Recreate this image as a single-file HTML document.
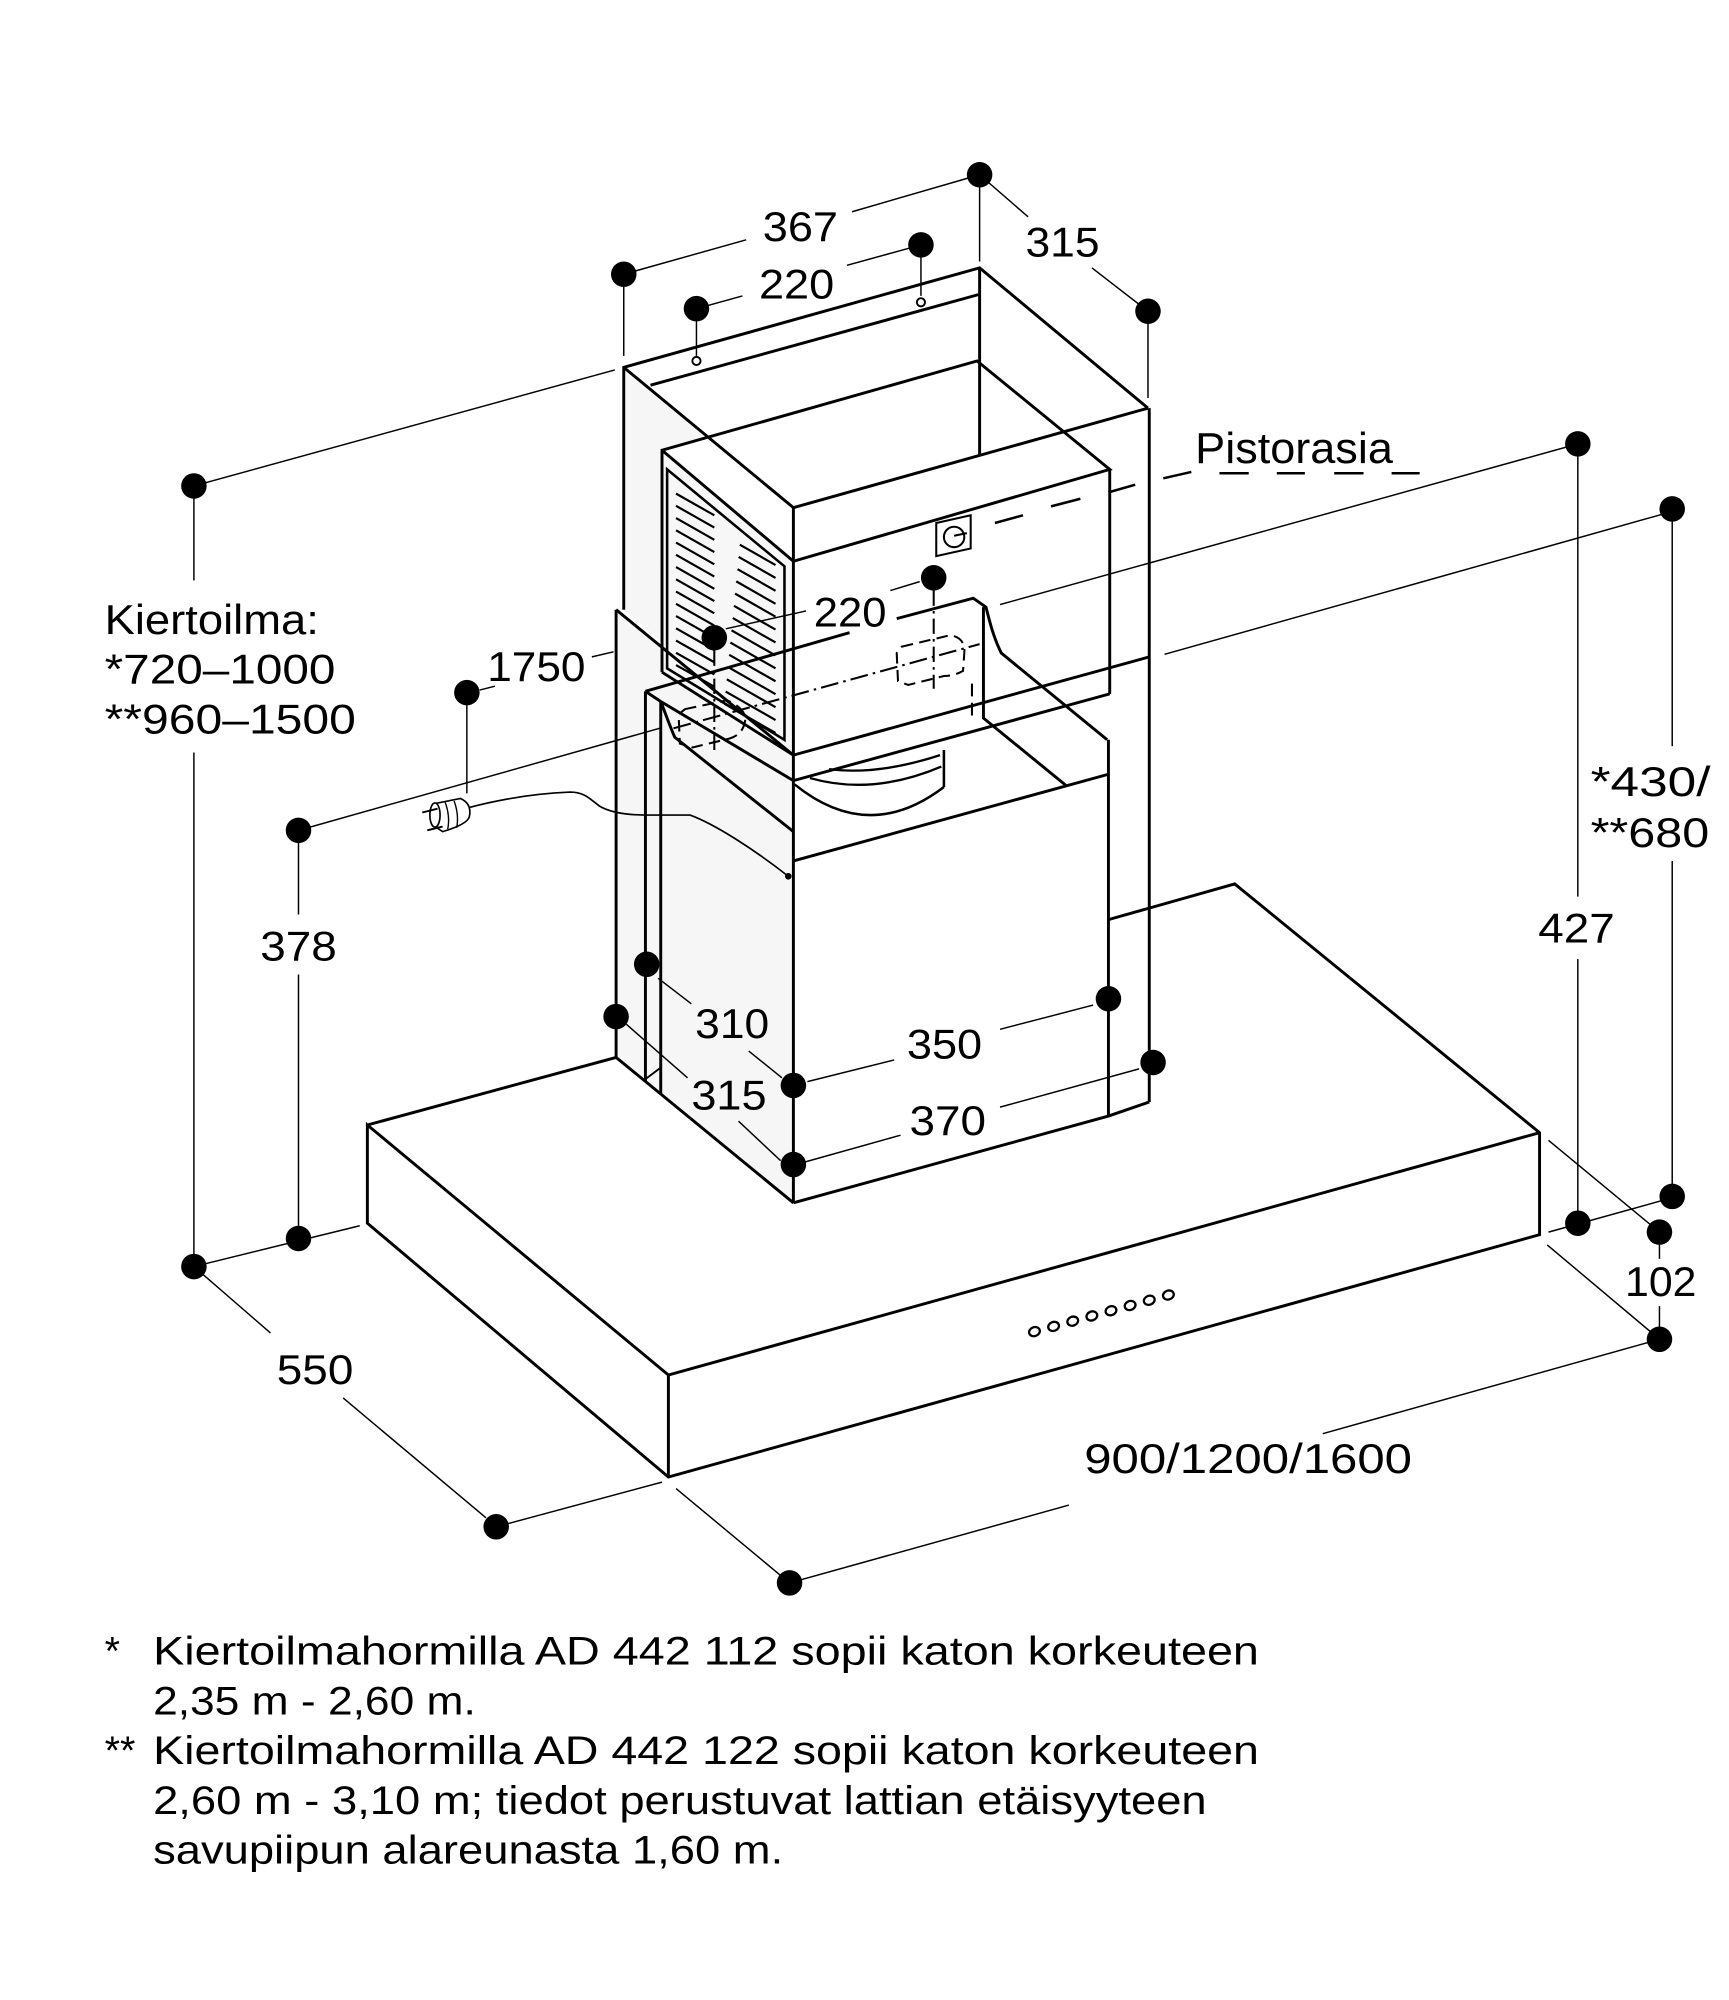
<!DOCTYPE html>
<html><head><meta charset="utf-8">
<style>
html,body{margin:0;padding:0;background:#fff;}
svg{display:block;}
text{font-family:"Liberation Sans",Arial,sans-serif;fill:#000;}
</style></head><body>
<svg xmlns="http://www.w3.org/2000/svg" width="1729" height="2000" viewBox="0 0 1355.5 1568">
<rect x="0" y="0" width="1355.5" height="1568" fill="#fff"/>

<!-- fills -->
<polygon points="489,288 622,398 622,592 489,478" fill="#f6f6f6"/>
<polygon points="483,478 622,592 622,943 483,829" fill="#f6f6f6"/>
<polygon points="519,353 766,283 870,368 622,440" fill="#fff"/>
<polygon points="519,353 622,440 622,592 519,527" fill="#f7f7f7"/>

<!-- object lines -->
<g fill="none" stroke="#000" stroke-width="2.3" stroke-linejoin="miter" stroke-linecap="butt">
  <path d="M489,478 L489,288 L768,210 L900,320"/>
  <path d="M489,288 L622,398"/>
  <path d="M622,398 L900,320"/>
  <path d="M510,302 L767,231"/>
  <path d="M768,210 L768,357"/>
  <path d="M901,320 L901,864"/>
  <path d="M622,397 L622,943"/>
  <path d="M519,527 L519,353 L766,283 L870,368 L622,440 L519,353"/>
  <path d="M870,368 L870,544"/>
  <path d="M622,612 L870,544"/>
  <path d="M519,527 L622,592"/>
  <path d="M523,524 L523,368 L615,444 L615,580 Z" stroke-width="2"/>
  <path d="M483,478 L483,829 L622,943"/>
  <path d="M483,478 L622,592"/>
  <path d="M622,592 L901,515"/>
  <path d="M622,943 L869,875 L901,864"/>
  <path d="M506,542 L506,848"/>
  <path d="M518,550 L518,857"/>
  <path d="M506,542 L518,550"/>
  <path d="M506,542 L666,496"/>
  <path d="M703,485 L763,469 L773,476 C776,488 779,500 785,512 L868,580"/>
  <path d="M518,550 C522,560 525,569 529,578 L622,652"/>
  <path d="M518,550 L622,612"/>
  <path d="M771,476 L771,563 L836,616"/>
  <path d="M622,675 L869,607"/>
  <path d="M869,580 L869,875"/>
  <path d="M506,846 L518,837" stroke-width="1.5"/>
  <path d="M623,615 Q681,662 740,617" stroke-width="2"/>
  <path d="M635,610 Q684,624 738,601" stroke-width="1.8"/>
  <path d="M650,603 Q688,608 737,592" stroke-width="1.8"/>
  <path d="M740,588 L740,617" stroke-width="2"/>
  <path d="M288,882 L483,829"/>
  <path d="M869,721 L968,693 L1207,888 L1207,968 L524,1158 L288,959 L288,882 L524,1078 L1207,888"/>
  <path d="M524,1078 L524,1158"/>
</g>

<!-- louvers -->
<path fill="none" stroke="#000" stroke-width="1.7" d="
M530,387L560,404 M530,396.6L560,413.6 M530,406.2L560,423.2 M530,415.8L560,432.8 M530,425.4L560,442.4
M530,435L560,452 M530,444.6L560,461.6 M530,454.2L560,471.2 M530,463.8L560,480.8 M530,473.4L560,490.4
M530,483L560,500 M530,492.6L560,509.6 M530,502.2L560,519.2 M530,511.8L560,528.8 M530,521.4L560,538.4
M580,427L608,443 M579.1,436.6L608,453.1 M578.2,446.2L608,463.2 M577.2,455.8L608,473.4 M576.3,465.4L608,483.5
M575.4,475L608,493.6 M574.5,484.6L608,503.7 M573.5,494.2L608,513.9 M572.6,503.8L608,524 M571.7,513.4L608,534.1
M570.8,523L608,544.2 M569.8,532.6L608,554.4 M568.9,542.2L608,564.5 M568,551.8L608,574.6"/>

<!-- hidden outlets / axes -->
<g fill="none" stroke="#000" stroke-width="1.6">
  <path d="M537,556 L570,549 Q586,556 584,566 Q582,576 572,579 L543,586 L533,583 L532,560 Z" stroke-dasharray="9,5"/>
  <path d="M707,507 L745,498 Q757,500 756,512 L755,526 Q748,530 740,530 L712,537 L704,534 L703,512 Z" stroke-dasharray="9,5"/>
  <path d="M560,510 L560,590" stroke-dasharray="12,4,2,4"/>
  <path d="M732,463 L732,540" stroke-dasharray="12,4,2,4"/>
  <path d="M528,571 L768,505" stroke-dasharray="14,4,2,4"/>
  <path d="M762,536 L762,566" stroke-dasharray="10,5"/>
</g>

<!-- socket icon -->
<polygon points="734,410 761,404 761,430 734,436" fill="#fff" stroke="#000" stroke-width="1.6"/>
<circle cx="748" cy="421" r="8" fill="none" stroke="#000" stroke-width="1.6"/>
<path d="M748,420 L758,418" stroke="#000" stroke-width="1.6"/>

<!-- Pistorasia dashes -->
<g stroke="#000" stroke-width="2" fill="none">
  <path d="M780,410 L802,404 M824,397 L847,391 M869,386 L890,380 M912,375 L934,370"/>
  <path d="M956,371 L979,371 M1001,371 L1023,371 M1046,371 L1069,371 M1091,371 L1113,371"/>
</g>

<!-- control buttons -->
<g fill="#fff" stroke="#000" stroke-width="1.8">
  <ellipse cx="811" cy="1044" rx="4.3" ry="3.5" transform="rotate(-20 811 1044)"/>
  <ellipse cx="826" cy="1039.9" rx="4.3" ry="3.5" transform="rotate(-20 826 1039.9)"/>
  <ellipse cx="841" cy="1035.8" rx="4.3" ry="3.5" transform="rotate(-20 841 1035.8)"/>
  <ellipse cx="856" cy="1031.7" rx="4.3" ry="3.5" transform="rotate(-20 856 1031.7)"/>
  <ellipse cx="871" cy="1027.6" rx="4.3" ry="3.5" transform="rotate(-20 871 1027.6)"/>
  <ellipse cx="886" cy="1023.5" rx="4.3" ry="3.5" transform="rotate(-20 886 1023.5)"/>
  <ellipse cx="901" cy="1019.4" rx="4.3" ry="3.5" transform="rotate(-20 901 1019.4)"/>
  <ellipse cx="916" cy="1015.3" rx="4.3" ry="3.5" transform="rotate(-20 916 1015.3)"/>
</g>

<!-- cable and plug -->
<path d="M368,633 C395,626 420,622 447,621 C458,621 462,626 470,632 C480,638 495,639 507,639 L541,639 C560,646 590,665 618,687" fill="none" stroke="#000" stroke-width="1.3"/>
<circle cx="618" cy="687" r="2.6" fill="#000"/>
<path d="M341,630 L361,626 Q370,630 368,640 Q367,646 347,652 L341,648 Z" fill="#fff" stroke="#000" stroke-width="1.3"/>
<ellipse cx="341" cy="639" rx="4" ry="9.5" fill="#fff" stroke="#000" stroke-width="1.3"/>
<path d="M349,629 Q353,640 351,650 M356,628 Q360,639 358,649" fill="none" stroke="#000" stroke-width="1.1"/>
<path d="M331,637 L343,634 M335,651 L347,648" stroke="#000" stroke-width="1.5"/>

<!-- dimension lines -->
<g fill="none" stroke="#000" stroke-width="1.15">
  <path d="M489,215 L585,188 M668,166 L768,137"/>
  <path d="M546,242 L582,232 M664,208 L722,192"/>
  <path d="M768,137 L806,170 M856,210 L900,244"/>
  <path d="M489,215 L489,279 M546,242 L546,279 M722,192 L722,232 M768,137 L768,205 M900,244 L900,312"/>
  <path d="M152,381 L482,290"/>
  <path d="M152,381 L152,455 M152,590 L152,993"/>
  <path d="M152,993 L282,961"/>
  <path d="M152,993 L212,1045 M269,1096 L381,1190"/>
  <path d="M389,1197 L519,1162"/>
  <path d="M234,651 L517,571"/>
  <path d="M234,651 L234,717 M234,764 L234,971"/>
  <path d="M366,544 L366,622"/>
  <path d="M376,541 L388,538"/>
  <path d="M464,515 L481,511"/>
  <path d="M516,767 L542,787 M587,824 L613,845"/>
  <path d="M491,803 L539,845 M579,879 L612,910"/>
  <path d="M633,848 L701,831 M784,807 L857,788"/>
  <path d="M631,911 L706,890 M784,868 L893,838"/>
  <path d="M569,493 L632,479 M698,463 L721,456"/>
  <path d="M784,474 L1237,348 M1237,348 L1237,703 M1237,752 L1237,960"/>
  <path d="M913,513 L1311,401 M1311,399 L1311,585 M1311,675 L1311,939"/>
  <path d="M1214,966 L1311,939"/>
  <path d="M1214,894 L1301,966 M1213,976 L1301,1050"/>
  <path d="M1301,966 L1301,987 M1301,1024 L1301,1050"/>
  <path d="M530,1167 L619,1241 M619,1241 L838,1180 M1037,1124 L1301,1050"/>
</g>
<g fill="#fff" stroke="#000" stroke-width="1.5">
  <circle cx="546" cy="283" r="3.2"/>
  <circle cx="722" cy="237" r="3.2"/>
</g>

<!-- dimension dots -->
<g fill="#000">
  <circle cx="768" cy="137" r="10"/>
  <circle cx="489" cy="215" r="10"/>
  <circle cx="722" cy="192" r="10"/>
  <circle cx="546" cy="242" r="10"/>
  <circle cx="900" cy="244" r="10"/>
  <circle cx="152" cy="381" r="10"/>
  <circle cx="1237" cy="348" r="10"/>
  <circle cx="1311" cy="399" r="10"/>
  <circle cx="732" cy="453" r="10"/>
  <circle cx="560" cy="500" r="10"/>
  <circle cx="366" cy="543" r="10"/>
  <circle cx="234" cy="651" r="10"/>
  <circle cx="507" cy="756" r="10"/>
  <circle cx="483" cy="797" r="10"/>
  <circle cx="869" cy="783" r="10"/>
  <circle cx="904" cy="833" r="10"/>
  <circle cx="622" cy="851" r="10"/>
  <circle cx="622" cy="913" r="10"/>
  <circle cx="1311" cy="938" r="10"/>
  <circle cx="1237" cy="959" r="10"/>
  <circle cx="1301" cy="966" r="10"/>
  <circle cx="152" cy="993" r="10"/>
  <circle cx="234" cy="971" r="10"/>
  <circle cx="1301" cy="1050" r="10"/>
  <circle cx="389" cy="1197" r="10"/>
  <circle cx="619" cy="1241" r="10"/>
</g>

<!-- labels -->
<g font-size="33">
  <text x="598" y="189" textLength="59" lengthAdjust="spacingAndGlyphs">367</text>
  <text x="595" y="234" textLength="59" lengthAdjust="spacingAndGlyphs">220</text>
  <text x="804" y="201" textLength="58" lengthAdjust="spacingAndGlyphs">315</text>
  <text x="937" y="363" font-size="34" textLength="155" lengthAdjust="spacingAndGlyphs">Pistorasia</text>
  <text x="638" y="491" textLength="57" lengthAdjust="spacingAndGlyphs">220</text>
  <text x="382" y="534" textLength="77" lengthAdjust="spacingAndGlyphs">1750</text>
  <text x="82" y="497" textLength="168" lengthAdjust="spacingAndGlyphs">Kiertoilma:</text>
  <text x="82" y="536" textLength="181" lengthAdjust="spacingAndGlyphs">*720–1000</text>
  <text x="82" y="575" textLength="197" lengthAdjust="spacingAndGlyphs">**960–1500</text>
  <text x="204" y="753" textLength="60" lengthAdjust="spacingAndGlyphs">378</text>
  <text x="545" y="814" textLength="58" lengthAdjust="spacingAndGlyphs">310</text>
  <text x="711" y="830" textLength="59" lengthAdjust="spacingAndGlyphs">350</text>
  <text x="542" y="870" textLength="59" lengthAdjust="spacingAndGlyphs">315</text>
  <text x="713" y="890" textLength="60" lengthAdjust="spacingAndGlyphs">370</text>
  <text x="1247" y="624" textLength="94" lengthAdjust="spacingAndGlyphs">*430/</text>
  <text x="1247" y="664" textLength="93" lengthAdjust="spacingAndGlyphs">**680</text>
  <text x="1206" y="739" textLength="60" lengthAdjust="spacingAndGlyphs">427</text>
  <text x="1274" y="1016" textLength="56" lengthAdjust="spacingAndGlyphs">102</text>
  <text x="217" y="1085" textLength="60" lengthAdjust="spacingAndGlyphs">550</text>
  <text x="850" y="1155" textLength="257" lengthAdjust="spacingAndGlyphs">900/1200/1600</text>
</g>

<!-- footnotes -->
<g font-size="31">
  <text x="82" y="1305">*</text>
  <text x="120" y="1305" textLength="867" lengthAdjust="spacingAndGlyphs">Kiertoilmahormilla AD 442 112 sopii katon korkeuteen</text>
  <text x="120" y="1344" textLength="253" lengthAdjust="spacingAndGlyphs">2,35 m - 2,60 m.</text>
  <text x="82" y="1383">**</text>
  <text x="120" y="1383" textLength="867" lengthAdjust="spacingAndGlyphs">Kiertoilmahormilla AD 442 122 sopii katon korkeuteen</text>
  <text x="120" y="1422" textLength="826" lengthAdjust="spacingAndGlyphs">2,60 m - 3,10 m; tiedot perustuvat lattian etäisyyteen</text>
  <text x="120" y="1461" textLength="494" lengthAdjust="spacingAndGlyphs">savupiipun alareunasta 1,60 m.</text>
</g>
</svg>
</body></html>
